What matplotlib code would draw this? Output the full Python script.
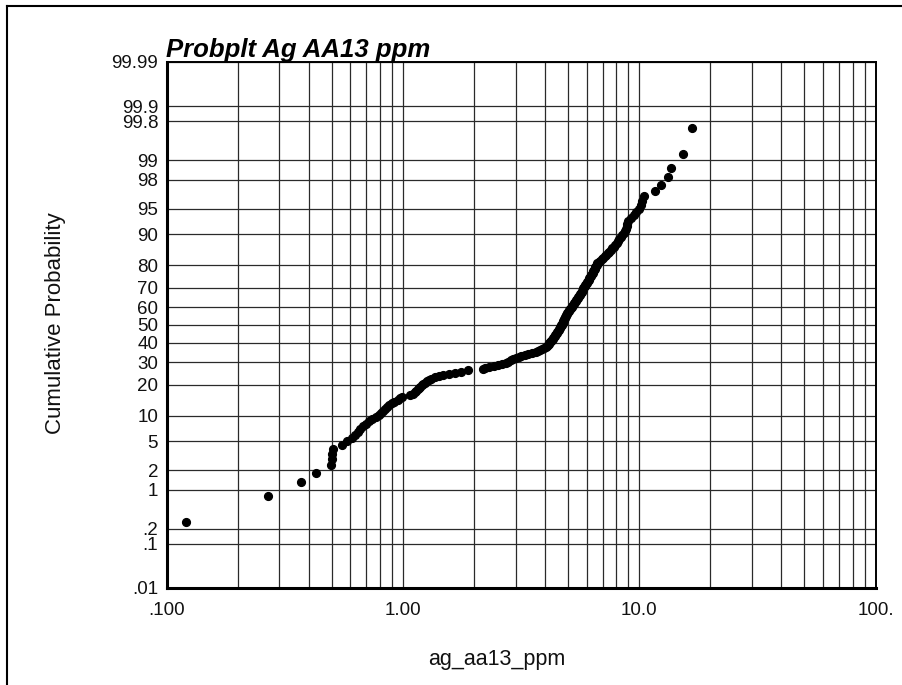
"""
Probability plot of ag_aa13_ppm on a normal-probability y scale.
"""

from statistics import NormalDist

import numpy as np
import matplotlib
matplotlib.use("Agg")
import matplotlib.pyplot as plt
from matplotlib.lines import Line2D
from matplotlib.ticker import FixedLocator, NullFormatter

# ── DATA (sorted sample values) ─────────────────────────────────────
ag_ppm = [
    0.121, 0.270, 0.370, 0.430, 0.498, 0.503, 0.503, 0.508, 0.553, 0.581,
    0.610, 0.630, 0.645, 0.660, 0.677, 0.699, 0.721, 0.744, 0.767, 0.789,
    0.809, 0.825, 0.841, 0.855, 0.871, 0.896, 0.922, 0.950, 0.971, 0.990,
    1.076, 1.108, 1.123, 1.140, 1.155, 1.171, 1.187, 1.202, 1.219, 1.240,
    1.268, 1.295, 1.321, 1.366, 1.423, 1.485, 1.574, 1.669, 1.770, 1.895,
    2.193, 2.226, 2.314, 2.421, 2.527, 2.633, 2.721, 2.788, 2.866, 2.939,
    3.018, 3.092, 3.177, 3.281, 3.402, 3.517, 3.643, 3.733, 3.807, 3.882,
    3.959, 4.036, 4.092, 4.120, 4.144, 4.172, 4.197, 4.221, 4.246, 4.275,
    4.304, 4.325, 4.355, 4.385, 4.415, 4.445, 4.480, 4.506, 4.537, 4.573,
    4.591, 4.613, 4.631, 4.654, 4.676, 4.699, 4.718, 4.740, 4.764, 4.782,
    4.806, 4.829, 4.848, 4.872, 4.895, 4.914, 4.938, 4.962, 4.995, 5.025,
    5.054, 5.089, 5.118, 5.154, 5.184, 5.220, 5.250, 5.287, 5.318, 5.354,
    5.391, 5.422, 5.460, 5.492, 5.530, 5.568, 5.600, 5.639, 5.672, 5.705,
    5.744, 5.778, 5.812, 5.846, 5.886, 5.927, 5.961, 6.002, 6.037, 6.079,
    6.121, 6.163, 6.205, 6.248, 6.284, 6.321, 6.358, 6.395, 6.433, 6.477,
    6.516, 6.560, 6.599, 6.645, 6.736, 6.835, 6.943, 7.046, 7.150, 7.261,
    7.376, 7.477, 7.588, 7.708, 7.822, 7.921, 8.023, 8.134, 8.246, 8.368,
    8.499, 8.625, 8.693, 8.769, 8.846, 8.924, 9.012, 9.198, 9.469, 9.741,
    10.00, 10.19, 10.31, 10.48, 11.63, 12.34, 13.24, 13.60, 15.39, 16.81,
]

prob_ticks = [0.01, 0.1, 0.2, 1, 2, 5, 10, 20, 30, 40, 50, 60, 70, 80,
              90, 95, 98, 99, 99.8, 99.9, 99.99]
prob_labels = [".01", ".1", ".2", "1", "2", "5", "10", "20", "30", "40", "50",
               "60", "70", "80", "90", "95", "98", "99", "99.8", "99.9", "99.99"]
x_ticks = [0.1, 1, 10, 100]
x_labels = [".100", "1.00", "10.0", "100."]

TITLE = "Probplt Ag AA13 ppm"
XLABEL = "ag_aa13_ppm"
YLABEL = "Cumulative Probability"
# ────────────────────────────────────────────────────────────────────

plt.rcParams["font.family"] = ["Liberation Sans", "DejaVu Sans"]

nd = NormalDist()
n = len(ag_ppm)
# plotting positions (i - 0.5) / n -> normal quantiles
z = [nd.inv_cdf((i + 0.5) / n) for i in range(n)]
tick_z = [nd.inv_cdf(p / 100.0) for p in prob_ticks]

fig = plt.figure(figsize=(9.02, 6.85), dpi=100)
ax = fig.add_axes([166.5 / 902, 1 - 588 / 685, 709 / 902, 526 / 685])

ax.set_xscale("log")
ax.set_xlim(0.1, 100)
ax.set_ylim(tick_z[0], tick_z[-1])

ax.xaxis.set_major_locator(FixedLocator(x_ticks))
ax.set_xticklabels(x_labels)
minor = [m * 10.0 ** e for e in (-1, 0, 1) for m in range(2, 10)]
ax.xaxis.set_minor_locator(FixedLocator(minor))
ax.xaxis.set_minor_formatter(NullFormatter())
ax.set_yticks(tick_z)
ax.set_yticklabels(prob_labels)

ax.grid(True, which="both", color="#2a2a2a", linewidth=0.9)
ax.set_axisbelow(True)
ax.tick_params(which="both", length=0, labelsize=13.5, colors="#111111")
ax.tick_params(axis="y", pad=6)
ax.tick_params(axis="x", pad=10)

for side in ("top", "right"):
    ax.spines[side].set_linewidth(1.4)
for side in ("left", "bottom"):
    ax.spines[side].set_linewidth(2.2)

ax.plot(ag_ppm, z, "o", color="black", markersize=5.6, linestyle="none",
        clip_on=False, zorder=3)

ax.set_xlabel(XLABEL, fontsize=15.5, color="#111111")
ax.set_ylabel(YLABEL, fontsize=16, color="#111111")
# label centres, in figure pixels converted to axes coordinates
ax.xaxis.set_label_coords((497 - 166.5) / 709, -(660 - 588) / 526)
ax.yaxis.set_label_coords(-(166.5 - 55) / 709, (588 - 323) / 526)
ax.xaxis.label.set_va("center")
ax.yaxis.label.set_va("center")
ax.set_title(TITLE, loc="left", fontsize=18.5, fontweight="bold",
             fontstyle="italic", pad=2)

# frame around the figure (top and left edges visible)
fig.add_artist(Line2D([7 / 902, 7 / 902], [0, 1 - 6 / 685], color="black",
                      linewidth=1.5, transform=fig.transFigure))
fig.add_artist(Line2D([7 / 902, 1], [1 - 6 / 685, 1 - 6 / 685], color="black",
                      linewidth=1.5, transform=fig.transFigure))

fig.savefig("out.png", dpi=100)
